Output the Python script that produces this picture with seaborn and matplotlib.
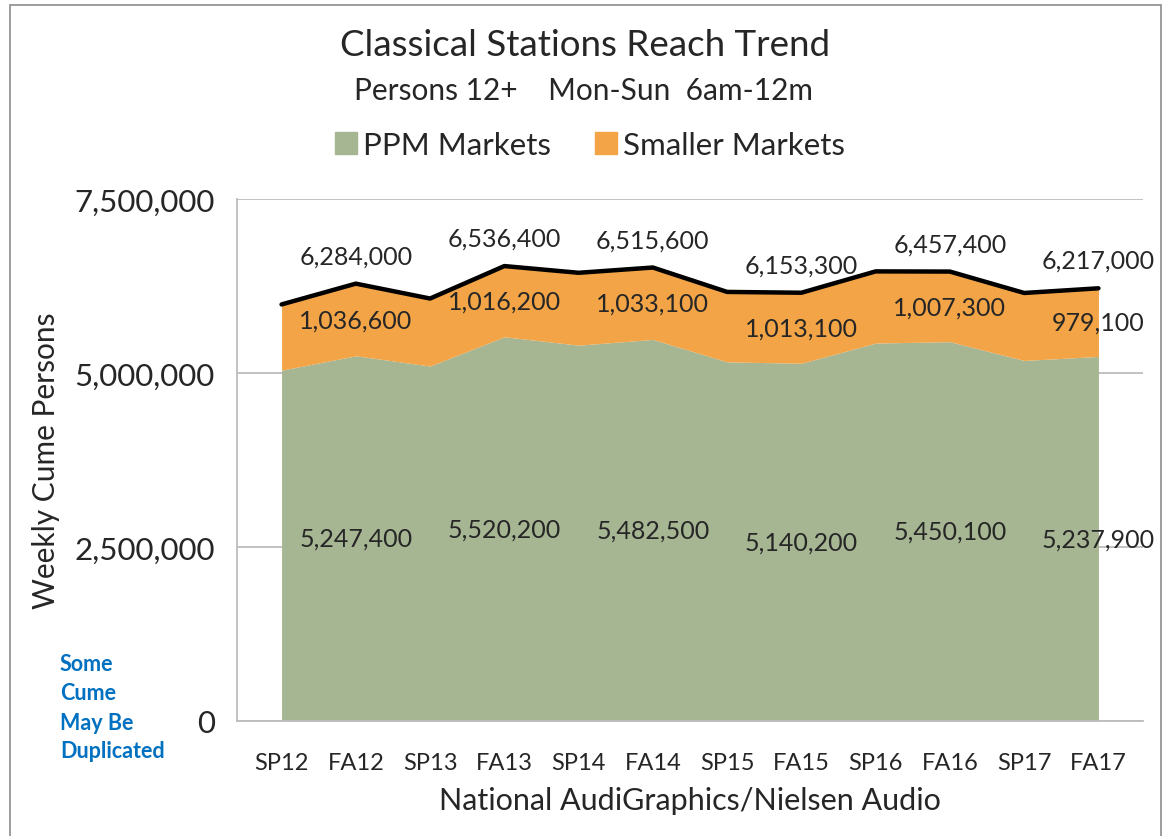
import numpy as np
import pandas as pd
import matplotlib
matplotlib.use("Agg")
import matplotlib.pyplot as plt
import matplotlib.patches as mpatches
import seaborn as sns

periods = ["SP12", "FA12", "SP13", "FA13", "SP14", "FA14",
           "SP15", "FA15", "SP16", "FA16", "SP17", "FA17"]
ppm = [5040000, 5247400, 5100000, 5520200, 5400000, 5482500,
       5160000, 5140200, 5430000, 5450100, 5180000, 5237900]
smaller = [945000, 1036600, 970000, 1016200, 1040000, 1033100,
           1005000, 1013100, 1030000, 1007300, 970000, 979100]
# only the fall books carry value labels
labelled = ["FA12", "FA13", "FA14", "FA15", "FA16", "FA17"]

df = pd.DataFrame({"period": periods, "ppm": ppm, "smaller": smaller})
df["x"] = np.arange(len(df))
df["total"] = df["ppm"] + df["smaller"]

green = "#A6B592"
orange = "#F2A446"
blue = "#0070C0"

sns.set_theme(style="white")
plt.rcParams["font.family"] = ["Lato", "DejaVu Sans"]

fig = plt.figure(figsize=(11.7, 8.37), dpi=100)
ax = fig.add_axes([237 / 1170, 1 - 722 / 837, (1143 - 237) / 1170, (722 - 200) / 837])

ax.fill_between(df["x"], 0, df["ppm"], color=green, linewidth=0, zorder=2)
ax.fill_between(df["x"], df["ppm"], df["total"], color=orange, linewidth=0, zorder=2)
sns.lineplot(data=df, x="x", y="total", color="black", linewidth=3.2, ax=ax, zorder=3)

ax.set_xlim(-0.6, len(df) - 0.4)
ax.set_ylim(0, 7500000)
ax.set_yticks([0, 2500000, 5000000, 7500000])
ax.set_yticklabels([f"{v:,}" for v in [0, 2500000, 5000000, 7500000]], fontsize=22.5)
ax.yaxis.grid(True, color="#BDBDBD", linewidth=1.3, zorder=0)
ax.set_axisbelow(True)

ax.set_xticks(df["x"])
ax.set_xticklabels(df["period"], fontsize=17)
ax.set_xticks(np.arange(-0.5, len(df)), minor=True)
ax.tick_params(axis="x", which="major", length=0, pad=22)
ax.tick_params(axis="x", which="minor", length=7, color="#BDBDBD", width=1.3, direction="out")
ax.tick_params(axis="y", length=7, color="#BDBDBD", width=1.3, direction="out", pad=9)

for side in ["top", "right"]:
    ax.spines[side].set_visible(False)
for side in ["left", "bottom"]:
    ax.spines[side].set_color("#BDBDBD")
    ax.spines[side].set_linewidth(1.3)

ax.set_xlabel("National AudiGraphics/Nielsen Audio", fontsize=22, labelpad=10)
ax.set_ylabel("Weekly Cume Persons", fontsize=21.5, labelpad=10)

for _, r in df[df["period"].isin(labelled)].iterrows():
    ax.text(r["x"], r["ppm"] / 2, f"{r['ppm']:,}", ha="center", va="center", fontsize=18)
    ax.text(r["x"], r["ppm"] + r["smaller"] / 2, f"{r['smaller']:,}", ha="center", va="center", fontsize=18)
    ax.annotate(f"{r['total']:,}", (r["x"], r["total"]), xytext=(0, 20), textcoords="offset points",
                ha="center", va="center", fontsize=18)

fig.text(585 / 1170, 1 - 45 / 837, "Classical Stations Reach Trend", ha="center", va="center", fontsize=26.5)
fig.text(584 / 1170, 1 - 91 / 837, "Persons 12+    Mon-Sun  6am-12m", ha="center", va="center", fontsize=21.5)

handles = [mpatches.Patch(color=green, label="PPM Markets"),
           mpatches.Patch(color=orange, label="Smaller Markets")]
fig.legend(handles=handles, loc="center", bbox_to_anchor=(590 / 1170, 1 - 146 / 837), ncol=2,
           frameon=False, fontsize=22.5, handlelength=0.7, handleheight=0.7, handletextpad=0.2,
           columnspacing=1.4)

for i, word in enumerate(["Some", "Cume", "May Be", "Duplicated"]):
    fig.text(60 / 1170, 1 - (665 + i * 29) / 837, word, ha="left", va="center",
             fontsize=15.5, color=blue, fontweight="bold")

fig.patches.append(mpatches.Rectangle((10 / 1170, -0.1), (1161 - 10) / 1170, 1.1 - 6 / 837,
                                      transform=fig.transFigure, fill=False,
                                      edgecolor="#8C8C8C", linewidth=1.2))

fig.savefig("out.png", dpi=100)
